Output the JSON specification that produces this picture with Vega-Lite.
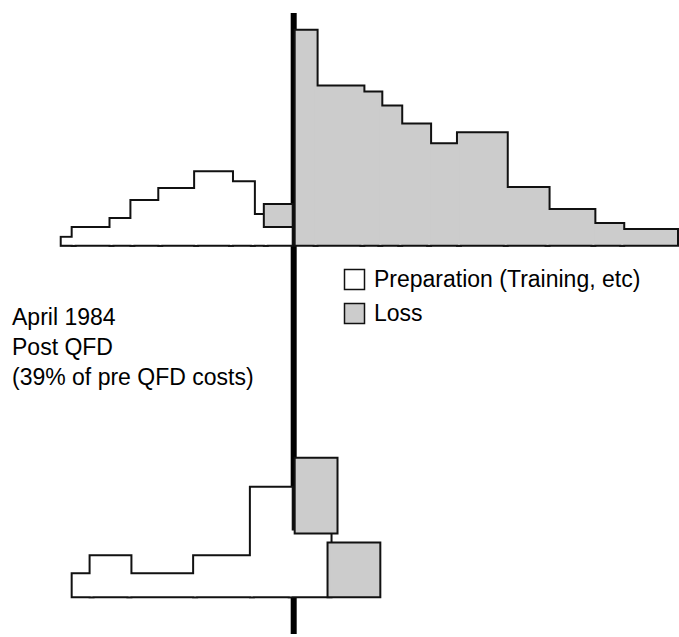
{
  "$schema": "https://vega.github.io/schema/vega-lite/v6.json",
  "width": 679,
  "height": 637,
  "autosize": {"type": "fit", "contains": "padding"},
  "padding": 0,
  "background": "white",
  "title": {
    "text": ["April 1984", "Post QFD", "(39% of pre QFD costs)"],
    "anchor": "start",
    "frame": "group",
    "orient": "top",
    "align": "left",
    "baseline": "top",
    "offset": 0,
    "dx": 12,
    "dy": 390,
    "font": "Liberation Sans",
    "fontSize": 23,
    "fontWeight": "normal",
    "color": "black",
    "lineHeight": 30
  },
  "config": {
    "view": {"stroke": null},
    "legend": {
      "labelFont": "Liberation Sans",
      "labelFontSize": 23,
      "labelColor": "black",
      "labelLimit": 0,
      "symbolType": "square",
      "symbolSize": 400,
      "symbolStrokeColor": "#111",
      "symbolStrokeWidth": 1.5,
      "rowPadding": 7,
      "labelOffset": 8,
      "padding": 0
    }
  },
  "datasets": {
    "bars": [
      {"panel": "pre", "series": "Preparation (Training, etc)", "start": -23.2, "end": -22.1, "low": 0, "high": 2.5},
      {"panel": "pre", "series": "Preparation (Training, etc)", "start": -22.1, "end": -18.3, "low": 0, "high": 7.5},
      {"panel": "pre", "series": "Preparation (Training, etc)", "start": -18.3, "end": -16.2, "low": 0, "high": 12},
      {"panel": "pre", "series": "Preparation (Training, etc)", "start": -16.2, "end": -13.4, "low": 0, "high": 21},
      {"panel": "pre", "series": "Preparation (Training, etc)", "start": -13.4, "end": -9.8, "low": 0, "high": 27},
      {"panel": "pre", "series": "Preparation (Training, etc)", "start": -9.8, "end": -6.3, "low": 0, "high": 35.5},
      {"panel": "pre", "series": "Preparation (Training, etc)", "start": -6.3, "end": -4.1, "low": 0, "high": 30.5},
      {"panel": "pre", "series": "Preparation (Training, etc)", "start": -4.1, "end": -2.8, "low": 0, "high": 14},
      {"panel": "pre", "series": "Preparation (Training, etc)", "start": -2.8, "end": -0.3, "low": 0, "high": 9.5},
      {"panel": "pre", "series": "Loss", "start": -2.8, "end": -0.3, "low": 9.5, "high": 19},
      {"panel": "pre", "series": "Loss", "start": 0.3, "end": 2.2, "low": 0, "high": 106.5},
      {"panel": "pre", "series": "Loss", "start": 2.2, "end": 6.9, "low": 0, "high": 78.5},
      {"panel": "pre", "series": "Loss", "start": 6.9, "end": 8.7, "low": 0, "high": 75.5},
      {"panel": "pre", "series": "Loss", "start": 8.7, "end": 10.7, "low": 0, "high": 68.5},
      {"panel": "pre", "series": "Loss", "start": 10.7, "end": 13.6, "low": 0, "high": 59.5},
      {"panel": "pre", "series": "Loss", "start": 13.6, "end": 16.6, "low": 0, "high": 49.5},
      {"panel": "pre", "series": "Loss", "start": 16.6, "end": 21.3, "low": 0, "high": 55},
      {"panel": "pre", "series": "Loss", "start": 21.3, "end": 25.5, "low": 0, "high": 27.5},
      {"panel": "pre", "series": "Loss", "start": 25.5, "end": 30.1, "low": 0, "high": 16.5},
      {"panel": "pre", "series": "Loss", "start": 30.1, "end": 33.0, "low": 0, "high": 9.5},
      {"panel": "pre", "series": "Loss", "start": 33.0, "end": 38.4, "low": 0, "high": 6.5},
      {"panel": "post", "series": "Preparation (Training, etc)", "start": -22.1, "end": -20.3, "low": 0, "high": 10},
      {"panel": "post", "series": "Preparation (Training, etc)", "start": -20.3, "end": -16.5, "low": 0, "high": 19},
      {"panel": "post", "series": "Preparation (Training, etc)", "start": -16.5, "end": -9.9, "low": 0, "high": 10},
      {"panel": "post", "series": "Preparation (Training, etc)", "start": -9.9, "end": -4.2, "low": 0, "high": 19},
      {"panel": "post", "series": "Preparation (Training, etc)", "start": -4.2, "end": -0.3, "low": 0, "high": 53.5},
      {"panel": "post", "series": "Preparation (Training, etc)", "start": -0.3, "end": 3.6, "low": 0, "high": 32},
      {"panel": "post", "series": "Loss", "start": 0.3, "end": 4.2, "low": 32, "high": 68},
      {"panel": "post", "series": "Loss", "start": 3.6, "end": 8.5, "low": 0, "high": 25.5}
    ]
  },
  "layer": [
    {
      "data": {"values": [{"event": "QFD"}]},
      "mark": {"type": "rule", "strokeWidth": 6, "color": "black"},
      "encoding": {
        "x": {"datum": 0, "type": "quantitative", "scale": {"domain": [-29.5, 38.4], "nice": false, "zero": false}, "axis": null},
        "y": {"datum": 116, "type": "quantitative", "scale": {"domain": [-196, 122.5], "nice": false, "zero": false}, "axis": null},
        "y2": {"datum": -196}
      }
    },
    {
      "data": {"name": "bars"},
      "transform": [{"filter": "datum.panel === 'pre'"}],
      "encoding": {
        "x": {"field": "start", "type": "quantitative", "scale": {"domain": [-29.5, 38.4], "nice": false, "zero": false}, "axis": null},
        "x2": {"field": "end"},
        "y": {"field": "high", "type": "quantitative", "scale": {"domain": [-196, 122.5], "nice": false, "zero": false}, "axis": null},
        "y2": {"field": "low"}
      },
      "layer": [
        {
          "transform": [{"filter": "datum.series !== 'Loss'"}],
          "mark": {"type": "rect", "fill": "white", "fillOpacity": 0, "stroke": "#111", "strokeWidth": 6}
        },
        {
          "transform": [{"filter": "datum.series !== 'Loss'"}],
          "mark": {"type": "rect", "stroke": "#ffffff", "strokeWidth": 2},
          "encoding": {
            "color": {"field": "series", "type": "nominal", "scale": {"domain": ["Preparation (Training, etc)", "Loss"], "range": ["#ffffff", "#cccccc"]}, "legend": {"title": null, "orient": "none", "legendX": 343, "legendY": 268, "encode": {"symbols": {"update": {"stroke": {"value": "#111"}, "strokeWidth": {"value": 1.5}}}}}}
          }
        },
        {
          "transform": [{"filter": "datum.series === 'Loss'"}],
          "mark": {"type": "rect", "fill": "white", "fillOpacity": 0, "stroke": "#111", "strokeWidth": 6}
        },
        {
          "transform": [{"filter": "datum.series === 'Loss'"}],
          "mark": {"type": "rect", "stroke": "#cccccc", "strokeWidth": 2},
          "encoding": {
            "color": {"field": "series", "type": "nominal", "scale": {"domain": ["Preparation (Training, etc)", "Loss"], "range": ["#ffffff", "#cccccc"]}}
          }
        }
      ]
    },
    {
      "data": {"name": "bars"},
      "transform": [{"filter": "datum.panel === 'post'"}],
      "encoding": {
        "x": {"field": "start", "type": "quantitative", "scale": {"domain": [-29.5, 38.4], "nice": false, "zero": false}, "axis": null},
        "x2": {"field": "end"},
        "y": {"field": "high", "type": "quantitative", "scale": {"domain": [-19.5, 299], "nice": false, "zero": false}, "axis": null},
        "y2": {"field": "low"}
      },
      "layer": [
        {
          "transform": [{"filter": "datum.series !== 'Loss'"}],
          "mark": {"type": "rect", "fill": "white", "fillOpacity": 0, "stroke": "#111", "strokeWidth": 6}
        },
        {
          "transform": [{"filter": "datum.series !== 'Loss'"}],
          "mark": {"type": "rect", "stroke": "#ffffff", "strokeWidth": 2},
          "encoding": {
            "color": {"field": "series", "type": "nominal", "scale": {"domain": ["Preparation (Training, etc)", "Loss"], "range": ["#ffffff", "#cccccc"]}}
          }
        },
        {
          "transform": [{"filter": "datum.series === 'Loss'"}],
          "mark": {"type": "rect", "fill": "white", "fillOpacity": 0, "stroke": "#111", "strokeWidth": 6}
        },
        {
          "transform": [{"filter": "datum.series === 'Loss'"}],
          "mark": {"type": "rect", "stroke": "#cccccc", "strokeWidth": 2},
          "encoding": {
            "color": {"field": "series", "type": "nominal", "scale": {"domain": ["Preparation (Training, etc)", "Loss"], "range": ["#ffffff", "#cccccc"]}}
          }
        }
      ]
    }
  ],
  "resolve": {"scale": {"y": "independent"}}
}
